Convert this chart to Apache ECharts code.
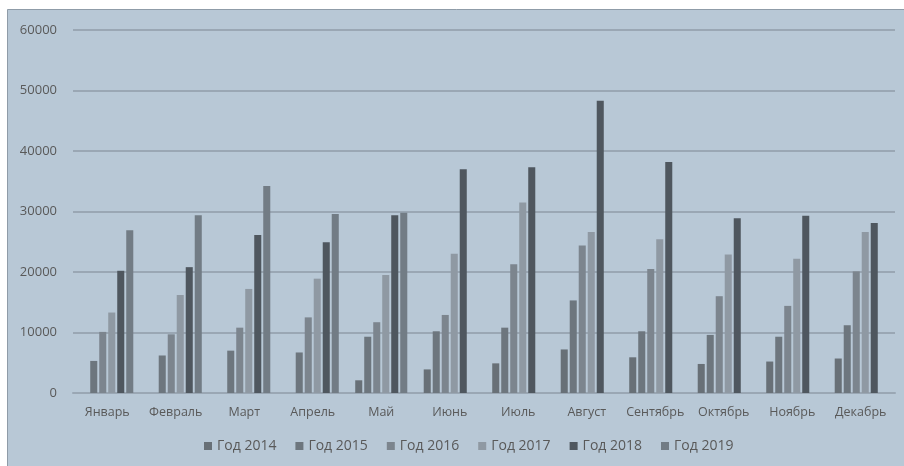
<!DOCTYPE html>
<html lang="ru">
<head>
<meta charset="utf-8">
<title>Год 2014 - 2019</title>
<style>
  html, body { margin: 0; padding: 0; background: #fff; }
  #chart { width: 904px; height: 466px; }
</style>
</head>
<body>
<div id="chart"></div>
<script src="https://cdn.jsdelivr.net/npm/echarts@6/dist/echarts.min.js"></script>
<script>
// months on the x axis
var months = ['Январь', 'Февраль', 'Март', 'Апрель', 'Май', 'Июнь', 'Июль', 'Август', 'Сентябрь', 'Октябрь', 'Ноябрь', 'Декабрь'];
var yearNames = ['Год 2014', 'Год 2015', 'Год 2016', 'Год 2017', 'Год 2018', 'Год 2019'];

// '-' = no value for that month
var y2014 = ['-', '-', '-', '-', 2100, 3900, 4900, 7200, 5900, 4800, 5200, 5700];
var y2015 = [5300, 6200, 7000, 6700, 9300, 10200, 10800, 15300, 10200, 9600, 9300, 11200];
var y2016 = [10100, 9700, 10800, 12500, 11700, 12900, 21300, 24400, 20500, 16000, 14400, 20100];
var y2017 = [13300, 16200, 17200, 18900, 19500, 23000, 31500, 26600, 25400, 22900, 22200, 26600];
var y2018 = [20200, 20800, 26100, 24900, 29400, 37000, 37300, 48300, 38200, 28900, 29300, 28100];
var y2019 = [26900, 29400, 34200, 29600, 29800, '-', '-', '-', '-', '-', '-', '-'];

var yearData = [y2014, y2015, y2016, y2017, y2018, y2019];
var yearColors = ['#687077', '#6d767e', '#7c858e', '#8f99a3', '#4f575f', '#727c85'];

var series = [];
for (var i = 0; i < yearNames.length; i++) {
    series.push({
        name: yearNames[i],
        type: 'bar',
        data: yearData[i],
        barGap: '28%',
        barCategoryGap: '24%',
        itemStyle: { color: yearColors[i] }
    });
}

var myChart = echarts.init(document.getElementById('chart'));
myChart.setOption({
    animation: false,
    textStyle: { fontFamily: 'Open Sans' },
    graphic: [{
        type: 'rect',
        z: -10,
        shape: { x: 7.5, y: 9.5, width: 904, height: 466 },
        style: { fill: '#b8c8d6', stroke: '#8f9ca8', lineWidth: 1 }
    }],
    grid: { left: 73, right: 9, top: 30, bottom: 73 },
    legend: {
        bottom: 8,
        left: 199,
        icon: 'rect',
        itemWidth: 8,
        itemHeight: 8,
        itemGap: 19,
        textStyle: { color: '#595959', fontSize: 14 },
        data: yearNames
    },
    xAxis: {
        type: 'category',
        data: months,
        axisLine: { lineStyle: { color: '#9aa7b4', width: 2 } },
        axisTick: { show: false },
        axisLabel: { color: '#595959', fontSize: 12.5, margin: 13, interval: 0 }
    },
    yAxis: {
        type: 'value',
        min: 0,
        max: 60000,
        interval: 10000,
        axisLine: { show: false },
        axisTick: { show: false },
        axisLabel: {
            color: '#595959',
            fontSize: 13,
            margin: 16,
            formatter: function (v) { return String(v); }
        },
        splitLine: { lineStyle: { color: '#9aa7b4', width: 2 } }
    },
    series: series
});
</script>
</body>
</html>
